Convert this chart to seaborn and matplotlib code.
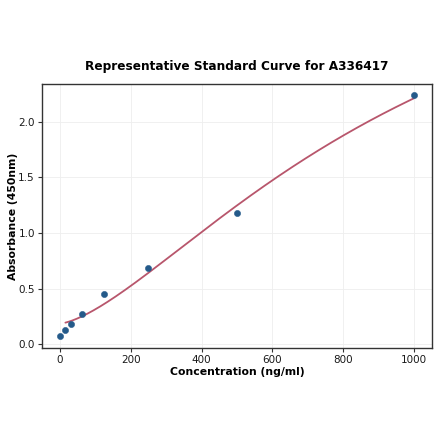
import numpy as np
import matplotlib
matplotlib.use("Agg")
import matplotlib.pyplot as plt
import seaborn as sns

# standard concentrations (ng/ml) and measured absorbance (450nm)
concentration = [0, 15.6, 31.25, 62.5, 125, 250, 500, 1000]
absorbance = [0.075, 0.13, 0.18, 0.275, 0.455, 0.685, 1.18, 2.24]

# fitted standard curve at a few concentrations
curve_conc = [15.6, 62.5, 125, 250, 500, 750, 1000]
curve_abs = [0.19, 0.26, 0.36, 0.64, 1.25, 1.78, 2.21]


def four_pl(x, a, b, c, d):
    return d + (a - d) / (1.0 + (x / c) ** b)


def fit_four_pl(x, y):
    # grid over b, c; a and d come from linear least squares
    x = np.asarray(x, float)
    y = np.asarray(y, float)
    best = None
    for b in np.linspace(0.8, 4.0, 161):
        for c in np.linspace(100, 3000, 291):
            g = 1.0 / (1.0 + (x / c) ** b)
            A = np.column_stack([g, 1 - g])
            coef, *_ = np.linalg.lstsq(A, y, rcond=None)
            err = np.sum((A @ coef - y) ** 2)
            if best is None or err < best[0]:
                best = (err, coef[0], b, c, coef[1])
    return best[1:]


a, b, c, d = fit_four_pl(curve_conc, curve_abs)
xs = np.linspace(min(curve_conc), max(curve_conc), 300)
ys = four_pl(xs, a, b, c, d)

sns.set_style("whitegrid")
plt.rcParams['font.family'] = ['DejaVu Sans']

fig, ax = plt.subplots(figsize=(4.4, 4.41), dpi=100)
sns.lineplot(x=xs, y=ys, ax=ax, color='#b8566c', linewidth=1.3)
sns.scatterplot(x=concentration, y=absorbance, ax=ax, color='#245a8a',
                s=20, edgecolor='#245a8a', zorder=5)

ax.set_xlim(-51, 1051)
ax.set_ylim(-0.036, 2.34)
ax.set_xticks([0, 200, 400, 600, 800, 1000])
ax.set_yticks([0.0, 0.5, 1.0, 1.5, 2.0])
ax.set_yticklabels(['0.0', '0.5', '1.0', '1.5', '2.0'])
ax.tick_params(labelsize=7.5, length=3, pad=2, color='#333333',
               labelcolor='#1a1a1a', left=True, bottom=True)
ax.grid(True, color='#eeeeee', linewidth=0.6)
for s in ax.spines.values():
    s.set_color('#333333')
    s.set_linewidth(1.0)

ax.set_xlabel('Concentration (ng/ml)', fontsize=7.8, fontweight='bold',
              labelpad=1, color='black')
ax.set_ylabel('Absorbance (450nm)', fontsize=7.8, fontweight='bold',
              labelpad=0, color='black')
ax.set_title('Representative Standard Curve for A336417', fontsize=8.7,
             fontweight='bold', pad=10, color='black')

fig.subplots_adjust(left=0.095, right=0.982, top=0.81, bottom=0.21)
fig.savefig('out.png', dpi=100)
